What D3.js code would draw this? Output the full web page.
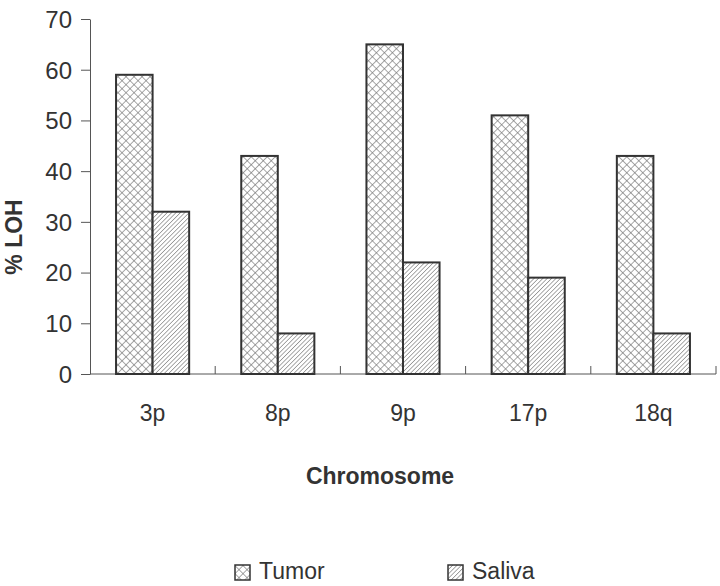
<!DOCTYPE html>
<html>
<head>
<meta charset="utf-8">
<script src="https://cdn.jsdelivr.net/npm/d3@7"></script>
<style>
  body { margin: 0; background: #fff; }
  svg { display: block; font-family: "Liberation Sans", Arial, sans-serif; }
</style>
</head>
<body>
<div id="chart"></div>
<script>
// data
var categories = ["3p", "8p", "9p", "17p", "18q"];
var series = ["Tumor", "Saliva"];
var tumor = [59, 43, 65, 51, 43];
var saliva = [32, 8, 22, 19, 8];
var yTicks = [0, 10, 20, 30, 40, 50, 60, 70];

var W = 720, H = 586;
var m = {left: 90, right: 4, top: 19, bottom: 212};

var svg = d3.select("#chart").append("svg")
  .attr("width", W)
  .attr("height", H);

// patterns
var defs = svg.append("defs");
var cross = defs.append("pattern")
  .attr("id", "cross")
  .attr("patternUnits", "userSpaceOnUse")
  .attr("width", 5.66).attr("height", 5.66)
  .attr("patternTransform", "rotate(45)");
cross.append("rect").attr("width", 5.66).attr("height", 5.66).attr("fill", "#fff");
cross.append("line").attr("x1", 0).attr("y1", 0).attr("x2", 5.66).attr("y2", 0)
  .attr("stroke", "#777").attr("stroke-width", 1.3);
cross.append("line").attr("x1", 0).attr("y1", 0).attr("x2", 0).attr("y2", 5.66)
  .attr("stroke", "#777").attr("stroke-width", 1.3);

var hatch = defs.append("pattern")
  .attr("id", "hatch")
  .attr("patternUnits", "userSpaceOnUse")
  .attr("width", 3.1).attr("height", 3.1)
  .attr("patternTransform", "rotate(45)");
hatch.append("rect").attr("width", 3.1).attr("height", 3.1).attr("fill", "#fff");
hatch.append("line").attr("x1", 0).attr("y1", 0).attr("x2", 0).attr("y2", 3.1)
  .attr("stroke", "#666").attr("stroke-width", 1.1);

var fills = {"Tumor": "url(#cross)", "Saliva": "url(#hatch)"};

// scales
var x = d3.scaleBand()
  .domain(categories)
  .range([m.left, W - m.right])
  .padding(0);

var x1 = d3.scaleBand()
  .domain(series)
  .range([x.bandwidth() * 0.208, x.bandwidth() * 0.792])
  .padding(0);

var y = d3.scaleLinear()
  .domain([0, 70])
  .range([H - m.bottom, m.top]);

// y axis
var yAxis = svg.append("g")
  .attr("transform", "translate(" + m.left + ",0)")
  .call(d3.axisLeft(y).tickValues(yTicks).tickSize(9).tickPadding(9).tickSizeOuter(0));
yAxis.select(".domain").attr("stroke", "#555");
yAxis.selectAll(".tick line").attr("stroke", "#555");
yAxis.selectAll(".tick text")
  .attr("fill", "#333")
  .style("font-size", "24px")
  .attr("dy", "0.35em");

// x axis line + boundary ticks
svg.append("line")
  .attr("x1", m.left).attr("x2", W - m.right)
  .attr("y1", y(0)).attr("y2", y(0))
  .attr("stroke", "#555");

svg.append("g").selectAll("line")
  .data(categories)
  .join("line")
  .attr("x1", d => x(d) + x.bandwidth())
  .attr("x2", d => x(d) + x.bandwidth())
  .attr("y1", y(0))
  .attr("y2", y(0) - 8)
  .attr("stroke", "#555");

svg.append("g").selectAll("text")
  .data(categories)
  .join("text")
  .attr("x", d => x(d) + x.bandwidth() / 2)
  .attr("y", 421)
  .attr("text-anchor", "middle")
  .attr("fill", "#333")
  .style("font-size", "23px")
  .text(d => d);

// bars
var rows = categories.map((c, i) => ({cat: c, Tumor: tumor[i], Saliva: saliva[i]}));

var groups = svg.append("g").selectAll("g")
  .data(rows)
  .join("g")
  .attr("transform", d => "translate(" + x(d.cat) + ",0)");

groups.selectAll("rect")
  .data(d => series.map(s => ({key: s, value: d[s]})))
  .join("rect")
  .attr("x", d => x1(d.key))
  .attr("width", x1.bandwidth())
  .attr("y", d => y(d.value))
  .attr("height", d => y(0) - y(d.value))
  .attr("fill", d => fills[d.key])
  .attr("stroke", "#333")
  .attr("stroke-width", 2);

// axis titles
svg.append("text")
  .attr("transform", "translate(22,237) rotate(-90)")
  .attr("text-anchor", "middle")
  .attr("fill", "#333")
  .style("font-size", "23px")
  .style("font-weight", "bold")
  .text("% LOH");

svg.append("text")
  .attr("x", 380)
  .attr("y", 484)
  .attr("text-anchor", "middle")
  .attr("fill", "#333")
  .style("font-size", "23px")
  .style("font-weight", "bold")
  .text("Chromosome");

// legend
var legendX = [235, 448];
var legend = svg.append("g").selectAll("g")
  .data(series)
  .join("g")
  .attr("transform", (d, i) => "translate(" + legendX[i] + ",565)");

legend.append("rect")
  .attr("width", 15).attr("height", 15)
  .attr("fill", d => fills[d])
  .attr("stroke", "#333")
  .attr("stroke-width", 1.5);

legend.append("text")
  .attr("x", 24)
  .attr("y", 14)
  .attr("fill", "#333")
  .style("font-size", "23px")
  .text(d => d);
</script>
</body>
</html>
